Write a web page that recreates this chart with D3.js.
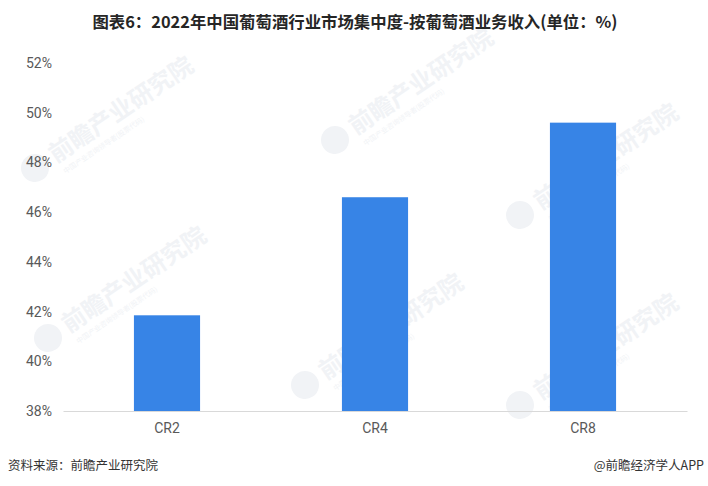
<!DOCTYPE html>
<html><head><meta charset="utf-8">
<script src="https://cdn.jsdelivr.net/npm/d3@7/dist/d3.min.js"></script>
<style>html,body{margin:0;padding:0;background:#fff;}svg{display:block;}</style>
</head><body>
<svg id="c" width="708" height="486"></svg>
<script>
const categories = ["CR2", "CR4", "CR8"];
const values = [41.85, 46.6, 49.6];
const yTicks = [38, 40, 42, 44, 46, 48, 50, 52];
const titleText = "图表6：2022年中国葡萄酒行业市场集中度-按葡萄酒业务收入(单位：%)";
const sourceText = "资料来源：前瞻产业研究院";
const creditText = "@前瞻经济学人APP";
const watermarks = [[35,168],[48,338],[305,385],[335,140],[520,215],[520,405]];

const svg = d3.select("#c");
const W = 708, H = 486;
const m = {left: 63, right: 21, top: 63, bottom: 75};
const x = d3.scaleBand().domain(categories).range([m.left, W - m.right]).padding(0);
const y = d3.scaleLinear().domain([38, 52]).range([H - m.bottom, m.top]);

// faint watermarks
const wm = svg.append("g");
const wmColor = "#f1f3f6";
watermarks.forEach(([cx, cy]) => {
  const g = wm.append("g").attr("transform", `translate(${cx},${cy}) rotate(-34)`);
  g.append("circle").attr("cx", 0).attr("cy", 0).attr("r", 14).attr("fill", wmColor);
  g.append("text").attr("x", 20).attr("y", 8).attr("font-family", "Noto Sans CJK SC")
    .attr("font-size", 24).attr("font-weight", "bold").attr("fill", wmColor).text("前瞻产业研究院");
  g.append("text").attr("x", 22).attr("y", 22).attr("font-family", "Noto Sans CJK SC")
    .attr("font-size", 7).attr("fill", wmColor).text("中国产业咨询领导者(股票代码)");
});

// y axis labels
const yAxis = d3.axisLeft(y).tickValues(yTicks).tickFormat(d => d + "%").tickSize(0).tickPadding(11);
const ya = svg.append("g").attr("transform", `translate(${m.left},0)`).call(yAxis);
ya.select(".domain").remove();
ya.selectAll("text").attr("font-family", "Roboto, 'Noto Sans'").attr("font-size", 14).attr("fill", "#595959");

// bars
const bw = x.bandwidth() * 0.318;
svg.append("g").selectAll("rect").data(categories).join("rect")
  .attr("x", d => x(d) + x.bandwidth() / 2 - bw / 2)
  .attr("width", bw)
  .attr("y", (d, i) => y(values[i]))
  .attr("height", (d, i) => y(38) - y(values[i]))
  .attr("fill", "#3784e6");

// x axis
const xAxis = d3.axisBottom(x).tickSize(0).tickPadding(12);
const xa = svg.append("g").attr("transform", `translate(0,${y(38)})`).call(xAxis);
xa.select(".domain").attr("stroke", "#d9d9d9");
xa.selectAll("text").attr("font-family", "Roboto, 'Noto Sans'").attr("font-size", 14).attr("fill", "#595959");

// title
svg.append("text").attr("x", 355).attr("y", 28).attr("text-anchor", "middle")
  .attr("font-family", "'Noto Sans CJK SC'").attr("font-weight", "bold").attr("font-size", 16.4)
  .attr("fill", "#262626").text(titleText);

// footer
svg.append("text").attr("x", 8).attr("y", 470).attr("font-family", "'Noto Sans CJK SC'")
  .attr("font-size", 12.5).attr("fill", "#333").text(sourceText);
svg.append("text").attr("x", 704).attr("y", 470).attr("text-anchor", "end").attr("font-family", "'Noto Sans CJK SC'")
  .attr("font-size", 12.5).attr("fill", "#333").text(creditText);
</script>
</body></html>
